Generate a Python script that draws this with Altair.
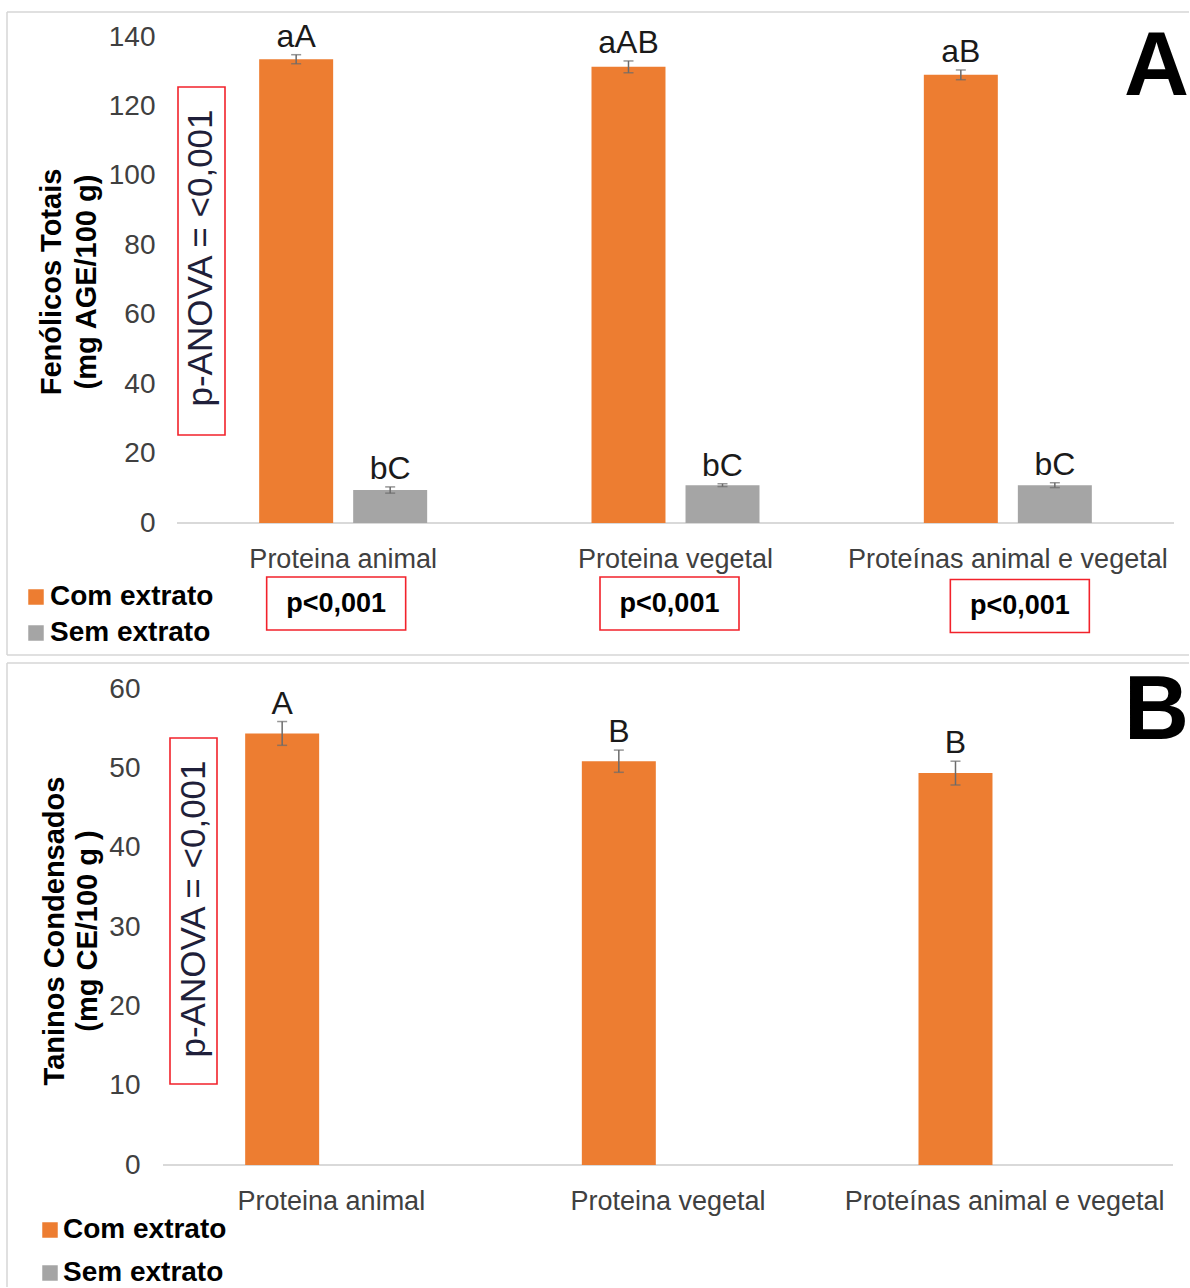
import altair as alt
import pandas as pd

FONTE = "Liberation Sans"
LARANJA = "#ED7D31"
CINZA = "#A5A5A5"
COR_ERRO = "#6B6B6B"
VERMELHO = "#F2222B"
COR_EIXO = "#404040"
COR_BASE = "#D9D9D9"
COR_MOLDURA = "#D6D6D6"

# ---- dados ----
categorias = ["Proteina animal", "Proteina vegetal", "Proteínas animal e vegetal"]
series = ["Com extrato", "Sem extrato"]
cores = [LARANJA, CINZA]

# Fenólicos totais (mg AGE/100 g)
fen_com = [133.6, 131.4, 129.1]
fen_com_dp = [1.3, 1.7, 1.4]
fen_sem = [9.5, 10.9, 10.9]
fen_sem_dp = [0.9, 0.4, 0.7]
fen_letras_com = ["aA", "aAB", "aB"]
fen_letras_sem = ["bC", "bC", "bC"]

# Taninos condensados (mg CE/100 g)
tan_com = [54.4, 50.9, 49.4]
tan_com_dp = [1.5, 1.4, 1.5]
tan_letras = ["A", "B", "B"]

p_anova = "p-ANOVA = <0,001"
p_grupos = ["p<0,001", "p<0,001", "p<0,001"]


def tabela(medias, desvios, letras, serie):
    return pd.DataFrame({
        "categoria": categorias,
        "serie": serie,
        "valor": medias,
        "inf": [m - d for m, d in zip(medias, desvios)],
        "sup": [m + d for m, d in zip(medias, desvios)],
        "letra": letras,
    })


df_a = pd.concat([
    tabela(fen_com, fen_com_dp, fen_letras_com, series[0]),
    tabela(fen_sem, fen_sem_dp, fen_letras_sem, series[1]),
], ignore_index=True)
df_b = tabela(tan_com, tan_com_dp, tan_letras, series[0])

UM = pd.DataFrame({"k": [0]})


# ---- auxiliares ----
def texto(txt, x, y, size, weight="normal", color="#000000", angle=0,
          align="center", baseline="middle"):
    return alt.Chart(pd.DataFrame({"t": [txt]})).mark_text(
        font=FONTE, fontSize=size, fontWeight=weight, color=color,
        angle=angle, align=align, baseline=baseline,
    ).encode(x=alt.value(x), y=alt.value(y), text="t:N")


def retangulo(x1, x2, y1, y2, cor, largura_traco):
    return alt.Chart(UM).mark_rect(
        fill="transparent", stroke=cor, strokeWidth=largura_traco
    ).encode(x=alt.value(x1), x2=alt.value(x2), y=alt.value(y1), y2=alt.value(y2))


def linha_h(x1, x2, y):
    return alt.Chart(UM).mark_rule(color=COR_MOLDURA, strokeWidth=1.5).encode(
        x=alt.value(x1), x2=alt.value(x2), y=alt.value(y))


def linha_v(x, y1, y2):
    return alt.Chart(UM).mark_rule(color=COR_MOLDURA, strokeWidth=1.5).encode(
        x=alt.value(x), y=alt.value(y1), y2=alt.value(y2))


def caixa(largura, altura, desloc):
    r = largura / 2
    h = altura / 2 / r
    d = desloc / r
    return f"M{-1 + d:.4f},{-h:.4f}H{1 + d:.4f}V{h:.4f}H{-1 + d:.4f}Z"


def legenda(xq, xt, ys):
    camadas = []
    for serie, cor, y in zip(series, cores, ys):
        camadas.append(
            alt.Chart(UM).mark_square(size=240, color=cor, opacity=1)
            .encode(x=alt.value(xq), y=alt.value(y))
        )
        camadas.append(texto(serie, xt, y, 28, weight="bold", align="left"))
    return camadas


def barras(df, largura, x_ini, ymax, ystep, pad_y, pad_x, pad_ext):
    x = alt.X(
        "categoria:N", sort=categorias,
        scale=alt.Scale(domain=categorias, range=[x_ini, largura],
                        paddingInner=0, paddingOuter=0),
        axis=alt.Axis(title=None, labelAngle=0, domain=False, ticks=False, grid=False,
                      labelPadding=pad_x, labelFont=FONTE, labelFontSize=27,
                      labelColor=COR_EIXO, labelLimit=500),
    )
    xo = alt.XOffset("serie:N", sort=series,
                     scale=alt.Scale(domain=series, paddingInner=0.213, paddingOuter=pad_ext))

    def y(campo):
        return alt.Y(
            campo, scale=alt.Scale(domain=[0, ymax], nice=False),
            axis=alt.Axis(title=None, values=list(range(0, ymax + 1, ystep)), grid=False,
                          domain=False, ticks=False, labelPadding=pad_y, labelFont=FONTE,
                          labelFontSize=28, labelColor=COR_EIXO),
        )

    cor = alt.Color("serie:N", scale=alt.Scale(domain=series, range=cores), legend=None)
    base = alt.Chart(df).encode(x=x, xOffset=xo)
    linha0 = alt.Chart(pd.DataFrame({"valor": [0]})).mark_rule(
        color=COR_BASE, strokeWidth=2
    ).encode(y=y("valor:Q"), x=alt.value(x_ini), x2=alt.value(largura))
    colunas = base.mark_bar().encode(y=y("valor:Q"), color=cor)
    haste = base.mark_rule(color=COR_ERRO, strokeWidth=1.5).encode(
        y=y("inf:Q"), y2="sup:Q")
    topo = base.mark_tick(color=COR_ERRO, size=10, thickness=1.5).encode(y=y("sup:Q"))
    fundo = base.mark_tick(color=COR_ERRO, size=10, thickness=1.5).encode(y=y("inf:Q"))
    letras = base.mark_text(
        font=FONTE, fontSize=32, baseline="alphabetic", dy=-8, color="#1A1A1A"
    ).encode(y=y("sup:Q"), text="letra:N")
    return [linha0, colunas, haste, topo, fundo, letras], x


# ---- painel A: fenólicos totais ----
LARG_A, ALT_A = 1011, 486
camadas_a, x_a = barras(df_a, LARG_A, 14, 140, 20, 8, 23, 0.874)

caixas_a = []
for cat, ptxt, desloc, yc in zip(categorias, p_grupos, [-7, -6, 12], [566.5, 566.5, 569]):
    d = pd.DataFrame({"categoria": [cat], "t": [ptxt]})
    caixas_a.append(
        alt.Chart(d).mark_point(shape=caixa(139, 53, desloc), size=139 ** 2, filled=False,
                                stroke=VERMELHO, strokeWidth=1.6, opacity=1)
        .encode(x=x_a, y=alt.value(yc))
    )
    caixas_a.append(
        alt.Chart(d).mark_text(font=FONTE, fontSize=27, fontWeight="bold", color="#000000",
                               dx=desloc, baseline="middle")
        .encode(x=x_a, y=alt.value(yc), text="t:N")
    )

painel_a = alt.layer(
    linha_h(-156, 1026, -25),
    linha_h(-156, 1026, 618),
    linha_v(-156, -25, 618),
    *camadas_a,
    retangulo(15, 62, 50, 398, VERMELHO, 1.6),
    texto(p_anova, 38, 221, 35, color="#1F1F3A", angle=270),
    *caixas_a,
    *legenda(-127, -113, [560, 596]),
    texto("Fenólicos Totais", -111, 245, 29, weight="bold", angle=270),
    texto("(mg AGE/100 g)", -76, 245, 29, weight="bold", angle=270),
    texto("A", 1026, -13, 90, weight="bold", align="right", baseline="top"),
).properties(width=LARG_A, height=ALT_A)

# ---- painel B: taninos condensados ----
LARG_B, ALT_B = 1010, 476
camadas_b, x_b = barras(df_b, LARG_B, 0, 60, 10, 23, 23, 0.897)

painel_b = alt.layer(
    linha_h(-156, 1026, -26),
    linha_v(-156, -26, 598),
    *camadas_b,
    retangulo(7, 54, 49, 395, VERMELHO, 1.6),
    texto(p_anova, 31, 220, 35, color="#1F1F3A", angle=270),
    *legenda(-113, -100, [541, 584]),
    texto("Taninos Condensados", -108, 242, 29, weight="bold", angle=270),
    texto("(mg CE/100 g )", -75, 242, 29, weight="bold", angle=270),
    texto("B", 1026, -21, 90, weight="bold", align="right", baseline="top"),
).properties(width=LARG_B, height=ALT_B)

chart = alt.vconcat(painel_a, painel_b, spacing=6).properties(
    padding={"left": 6, "top": 11, "right": 0, "bottom": 0},
    background="white",
).configure_view(stroke=None)

chart.save("out.html", embed_options={"renderer": "svg", "actions": False})
